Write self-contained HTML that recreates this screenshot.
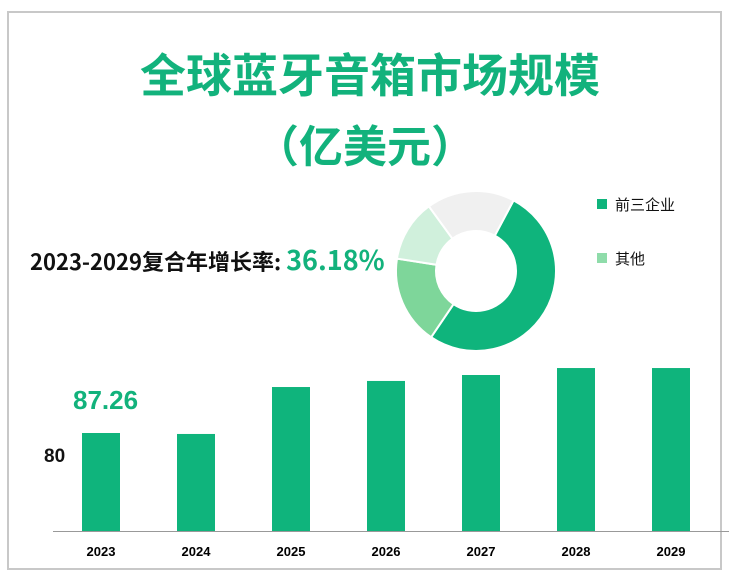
<!DOCTYPE html>
<html><head><meta charset="utf-8"><style>
body{margin:0;width:731px;height:578px;background:#fff;overflow:hidden;font-family:"Liberation Sans","Noto Sans CJK SC",sans-serif}
</style></head><body>
<svg width="731" height="578">
<rect x="8" y="12" width="713" height="557" fill="#fff" stroke="#c8c8c8" stroke-width="2"/>
<text x="370" y="92" text-anchor="middle" font-size="46" font-weight="bold" fill="#12b27c" font-family="Noto Sans CJK SC, sans-serif">全球蓝牙音箱市场规模</text>
<text x="365" y="162" text-anchor="middle" font-size="44" font-weight="bold" fill="#12b27c" font-family="Noto Sans CJK SC, sans-serif">（亿美元）</text>
<text x="30" y="270" font-size="22" font-weight="bold" fill="#111" font-family="Noto Sans CJK SC, sans-serif">2023-2029复合年增长率: <tspan fill="#12b27c" font-size="27">36.18%</tspan></text>
<g id="donut"></g>
<rect x="597" y="199" width="10" height="10" fill="#0fb47c"/>
<text x="615" y="210" font-size="15" font-family="Noto Sans CJK SC, sans-serif" fill="#111">前三企业</text>
<rect x="597" y="253" width="10" height="10" fill="#8fdcaa"/>
<text x="615" y="264" font-size="15" font-family="Noto Sans CJK SC, sans-serif" fill="#111">其他</text>
<g id="bars"></g>
<line x1="53" y1="531.5" x2="729" y2="531.5" stroke="#999" stroke-width="1"/>
<text x="73" y="409" font-size="26" fill="#12b27c" font-weight="bold">87.26</text>
<text x="44" y="462" font-size="19" fill="#111" font-weight="bold">80</text>
</svg>
<script>
const categories=["2023","2024","2025","2026","2027","2028","2029"];
const values=[87.26,86.4,128.2,133.6,138.9,145.1,145.1];
const shareLabels=["前三企业","其他A","其他B","其他C"];
const shares=[51.7,18,12.5,17.8];
const NS="http://www.w3.org/2000/svg";
const base=531,scale=98/87.26;
function xPos(i){return 82+i*95;}
function yPos(v){return base-v*scale;}
const bars=document.getElementById('bars');
categories.forEach((c,i)=>{
 const r=document.createElementNS(NS,'rect');
 r.setAttribute('x',xPos(i));r.setAttribute('y',yPos(values[i]));
 r.setAttribute('width',38);r.setAttribute('height',base-yPos(values[i]));
 r.setAttribute('fill','#0fb47c');
 
 
 bars.appendChild(r);
 const t=document.createElementNS(NS,'text');
 t.setAttribute('x',xPos(i)+19);t.setAttribute('y',556);
 t.setAttribute('text-anchor','middle');t.setAttribute('font-size','13');t.setAttribute('font-weight','bold');
 t.textContent=c;
 
 
 bars.appendChild(t);
});
const colors=["#0fb47c","#7ed69a","#d0f0dc","#f0f0f0"];
const cx=476,cy=271,R=80,r0=40;
const donut=document.getElementById('donut');
const total=shares.reduce((a,b)=>a+b,0);
let a=28*Math.PI/180;
function pt(rad,ang){return [cx+rad*Math.sin(ang),cy-rad*Math.cos(ang)];}
shares.forEach((s,i)=>{
 const a2=a+s/total*2*Math.PI;
 const large=(a2-a)>Math.PI?1:0;
 const p1=pt(R,a),p2=pt(R,a2),p3=pt(r0,a2),p4=pt(r0,a);
 const p=document.createElementNS(NS,'path');
 p.setAttribute('d',`M${p1}A${R},${R} 0 ${large} 1 ${p2}L${p3}A${r0},${r0} 0 ${large} 0 ${p4}Z`);
 p.setAttribute('fill',colors[i]);p.setAttribute('stroke','#fff');p.setAttribute('stroke-width','2');
 
 
 donut.appendChild(p);
 a=a2;
});
</script>
</body></html>
